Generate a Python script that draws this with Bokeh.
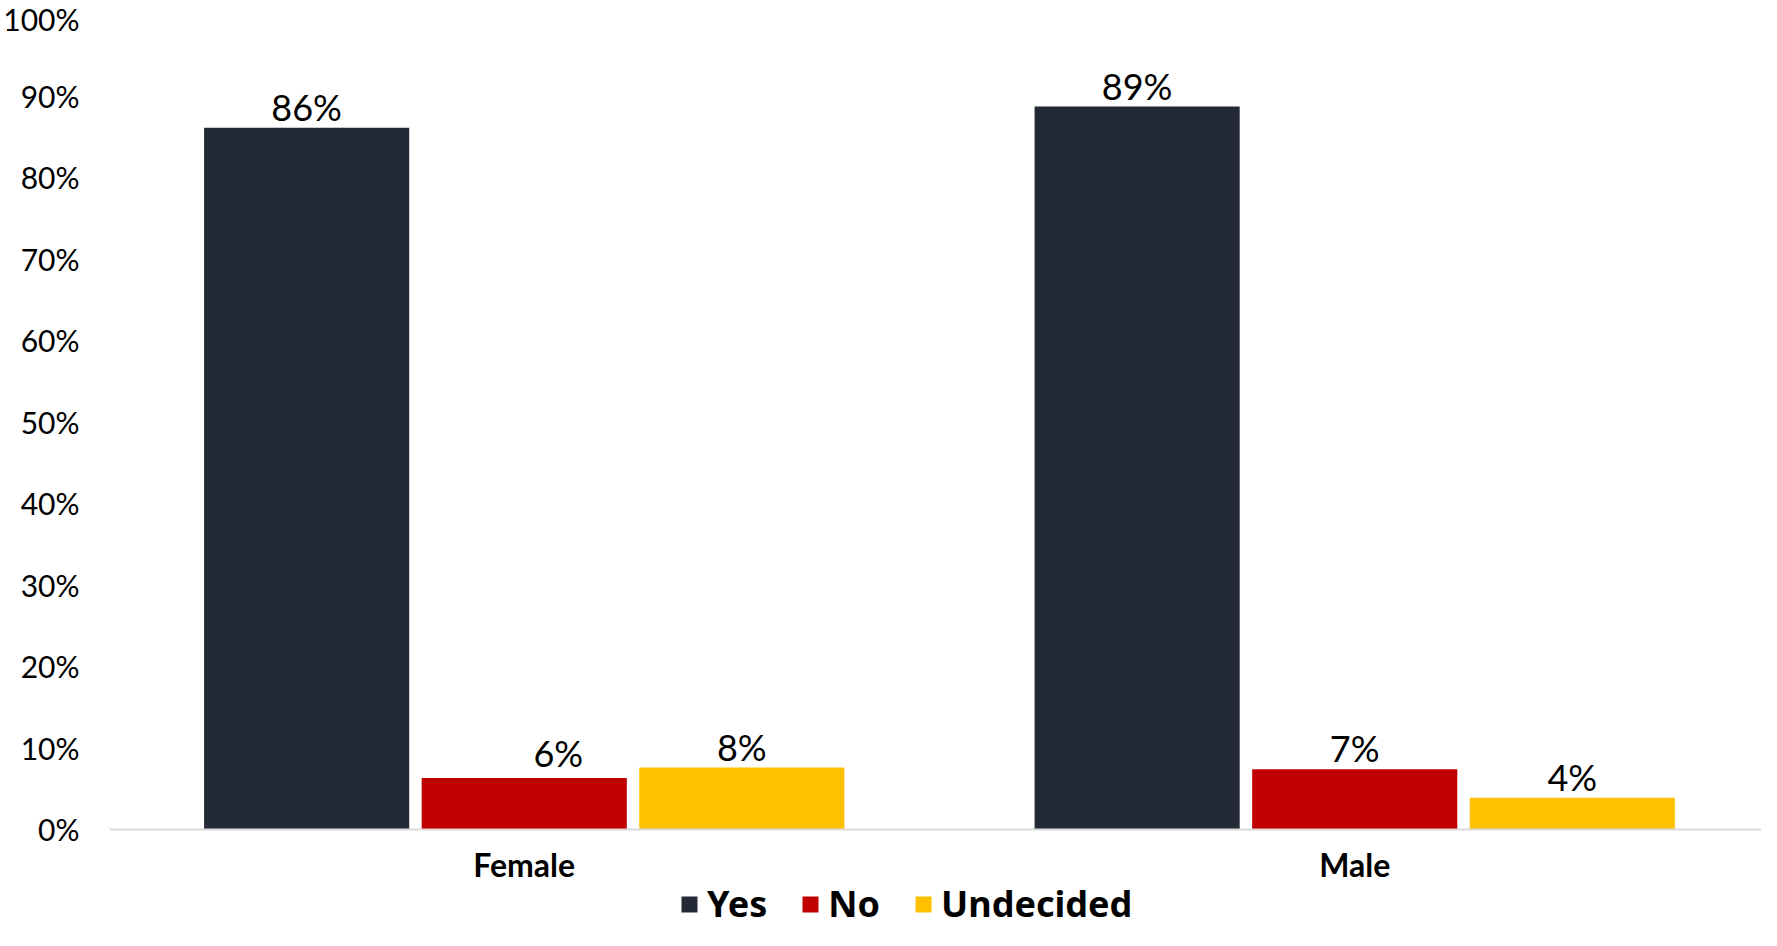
from bokeh.plotting import figure
from bokeh.models import (Range1d, FixedTicker, Legend, LegendItem, ColumnDataSource,
                          PrintfTickFormatter)
from bokeh.transform import dodge
from bokeh.core.properties import value
from bokeh.embed import file_html
from bokeh.resources import INLINE

# ---- data ----
categories = ["Female", "Male"]
series = ["Yes", "No", "Undecided"]
yes = [86.1, 88.7]
no = [6.3, 7.4]
undecided = [7.6, 3.9]
y_ticks = [0, 10, 20, 30, 40, 50, 60, 70, 80, 90, 100]

# ---- styles ----
colors = ["#232a36", "#c00000", "#ffc000"]
offsets = [-0.262, 0.0, 0.262]
bar_width = 0.247
LABEL_GAP = 21
# manual nudges of individual value labels (pixels), per series then per category
label_dx = [[0, 0], [34, 0], [0, 0]]
label_dy = [[0, 0], [-4, 0], [0, 0]]

NUM_FONT = "Lato"
LEG_FONT = "Noto Sans"
W, H = 1761, 930
Y_MIN = -12.4   # room below the baseline for category labels and legend

data = dict(x=list(range(len(categories))), Yes=yes, No=no, Undecided=undecided)
for i, (s, vals) in enumerate(zip(series, [yes, no, undecided])):
    data[s + "_lbl"] = [f"{round(v)}%" for v in vals]
    data[s + "_dx"] = label_dx[i]
    data[s + "_dy"] = [d - LABEL_GAP for d in label_dy[i]]
src = ColumnDataSource(data)

p = figure(width=W, height=H, output_backend="svg", toolbar_location=None,
           x_range=Range1d(-0.4994, 1.4898), y_range=Range1d(Y_MIN, 100),
           min_border_left=100, min_border_right=0, min_border_top=14,
           min_border_bottom=0)
p.outline_line_color = None
p.grid.visible = False
p.background_fill_color = "white"
p.border_fill_color = "white"

renderers = []
for s, c, off in zip(series, colors, offsets):
    r = p.vbar(x=dodge("x", off, range=p.x_range), top=s, bottom=0, width=bar_width,
               source=src, fill_color=c, line_color=None)
    renderers.append(r)
    p.text(x=dodge("x", off, range=p.x_range), y=s, text=s + "_lbl", source=src,
           x_offset=s + "_dx", y_offset=s + "_dy",
           text_align="center", text_baseline="alphabetic",
           text_font=value(NUM_FONT), text_font_size="36px", text_color="#000000")

# y axis
p.yaxis.ticker = FixedTicker(ticks=y_ticks)
p.yaxis.formatter = PrintfTickFormatter(format="%d%%")
p.yaxis.axis_line_color = None
p.yaxis.major_tick_line_color = None
p.yaxis.minor_tick_line_color = None
p.yaxis.major_tick_out = 0
p.yaxis.major_label_standoff = 30
p.yaxis.major_label_text_font = NUM_FONT
p.yaxis.major_label_text_font_size = "30px"
p.yaxis.major_label_text_color = "#000000"

# x axis, pinned to the zero baseline
p.xaxis.fixed_location = 0
p.xaxis.ticker = FixedTicker(ticks=list(range(len(categories))))
p.xaxis.major_label_overrides = {i: c for i, c in enumerate(categories)}
p.xaxis.axis_line_color = "#d9d9d9"
p.xaxis.axis_line_width = 2
p.xaxis.major_tick_line_color = None
p.xaxis.minor_tick_line_color = None
p.xaxis.major_tick_out = 0
p.xaxis.major_label_standoff = 16
p.xaxis.major_label_text_font = NUM_FONT
p.xaxis.major_label_text_font_style = "bold"
p.xaxis.major_label_text_font_size = "32px"
p.xaxis.major_label_text_color = "#000000"

legend = Legend(items=[LegendItem(label=s, renderers=[r]) for s, r in zip(series, renderers)],
                orientation="horizontal", location=(570, 2),
                border_line_color=None, background_fill_alpha=0,
                glyph_width=20, glyph_height=20, label_standoff=8, spacing=33,
                margin=0, padding=0,
                label_text_font=LEG_FONT, label_text_font_style="bold",
                label_text_font_size="36px", label_text_color="#000000")
p.add_layout(legend, "center")

open("out.html", "w").write(file_html(p, INLINE))
